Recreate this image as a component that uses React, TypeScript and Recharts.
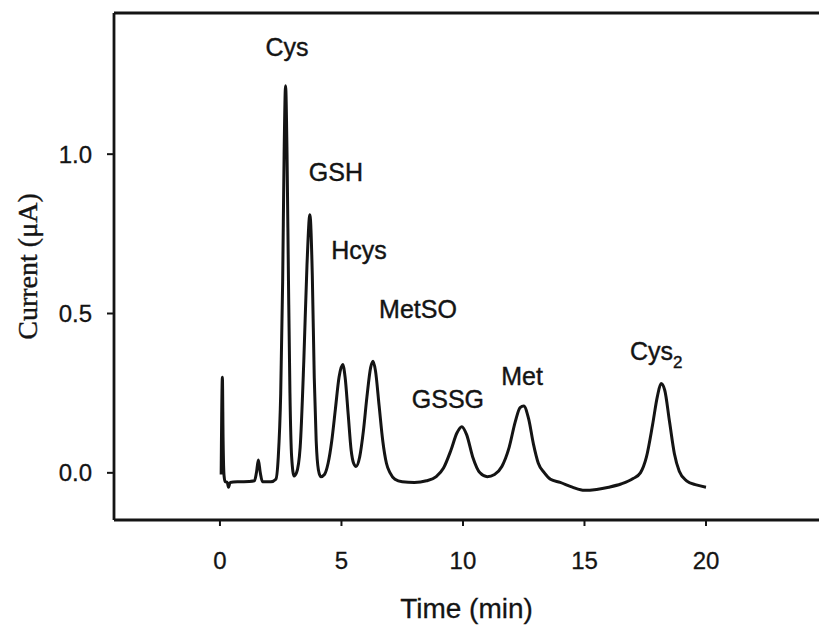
import React from "react";
import { LineChart, Line, XAxis, YAxis, ReferenceLine, ReferenceDot } from "recharts";

// Chromatogram trace: retention time (min) and detector current (µA)
const timeMin = [
  0.05, 0.1, 0.13, 0.17, 0.22, 0.3, 0.35, 0.42, 0.8, 1.2, 1.42, 1.5, 1.58, 1.66, 1.75,
  2.1, 2.3, 2.4, 2.5, 2.58, 2.64, 2.7, 2.76, 2.82, 2.88, 2.95, 3.05, 3.15, 3.3, 3.45,
  3.58, 3.7, 3.8, 3.88, 3.96, 4.05, 4.15, 4.3, 4.45, 4.6, 4.75, 4.9, 5.05, 5.15, 5.28,
  5.4, 5.5, 5.6, 5.75, 5.9, 6.05, 6.2, 6.3, 6.4, 6.55, 6.7, 6.85, 7.0, 7.2, 7.5,
  8.0, 8.5, 8.9, 9.2, 9.5, 9.75, 9.95, 10.15, 10.4, 10.7, 11.0, 11.3, 11.6, 11.9, 12.15,
  12.35, 12.5, 12.7, 12.9, 13.1, 13.35, 13.6, 14.0, 14.5, 15.0, 15.5, 16.0, 16.5, 17.0,
  17.3, 17.55, 17.8, 18.0, 18.15, 18.3, 18.5, 18.7, 18.9, 19.2, 19.6, 20.0,
];
const currentUA = [
  -0.005, 0.3, 0.1, -0.01, -0.028, -0.03, -0.045, -0.03, -0.028, -0.027, -0.025, 0.0, 0.04, 0.0, -0.028,
  -0.028, -0.02, 0.05, 0.25, 0.6, 1.0, 1.215, 1.0, 0.6, 0.25, 0.05, -0.01, 0.0, 0.08, 0.35,
  0.65, 0.81, 0.62, 0.3, 0.1, 0.01, -0.012, -0.005, 0.03, 0.1, 0.2, 0.3, 0.34, 0.3, 0.18,
  0.07, 0.03, 0.02, 0.05, 0.13, 0.24, 0.33, 0.35, 0.32, 0.21, 0.1, 0.03, 0.0, -0.02, -0.028,
  -0.03, -0.025, -0.012, 0.015, 0.07, 0.125, 0.145, 0.12, 0.05, 0.0, -0.012, -0.005, 0.02, 0.08, 0.16,
  0.205, 0.21, 0.17, 0.09, 0.03, 0.0, -0.02, -0.03, -0.045, -0.055, -0.052, -0.045, -0.035, -0.018,
  0.0, 0.05, 0.15, 0.24, 0.28, 0.26, 0.16, 0.06, 0.005, -0.025, -0.038, -0.045,
];

// Peak names and where their labels sit (time, current at text baseline)
const peakNames = ["Cys", "GSH", "Hcys", "MetSO", "GSSG", "Met", "Cys"];
const peakSubs = ["", "", "", "", "", "", "2"];
const peakLabelTime = [2.76, 4.77, 5.72, 8.15, 9.38, 12.43, 16.87];
const peakLabelCurrent = [1.308, 0.915, 0.67, 0.487, 0.204, 0.277, 0.355];
const peakAnchor = ["middle", "middle", "middle", "middle", "middle", "middle", "start"];

const xTicks = [0, 5, 10, 15, 20];
const yTicks = [0, 0.5, 1.0];
const xDomain = [-4.36, 24.65];
const yDomain = [-0.148, 1.443];

const data = timeMin.map((t, i) => ({ t, c: currentUA[i] }));

const INK = "#141414";
const SANS = "'Liberation Sans', Arial, sans-serif";

const makePeakLabel = (name: string, sub: string, anchor: string) => (props: any) => {
  const vb = props.viewBox || {};
  const x = (vb.x ?? 0) + (vb.width ?? 0) / 2;
  const y = (vb.y ?? 0) + (vb.height ?? 0) / 2;
  return (
    <text
      x={x}
      y={y}
      textAnchor={anchor as any}
      fontFamily={SANS}
      fontSize={25}
      fill={INK}
      stroke={INK}
      strokeWidth={0.4}
    >
      {name}
      {sub ? (
        <tspan fontSize={17} dy={8}>
          {sub}
        </tspan>
      ) : null}
    </text>
  );
};

export default function App() {
  return (
    <div style={{ position: "absolute", left: 0, top: 0, width: 819, height: 628, background: "#fff" }}>
      <LineChart width={819} height={628} data={data} margin={{ top: 13, right: 0, bottom: 0, left: 0 }}>
        <XAxis
          dataKey="t"
          type="number"
          domain={xDomain}
          ticks={xTicks}
          allowDataOverflow
          height={108}
          tickSize={6}
          tickMargin={26}
          axisLine={{ stroke: INK, strokeWidth: 2.8 }}
          tickLine={{ stroke: INK, strokeWidth: 2 }}
          tick={{ fill: INK, fontSize: 24, fontFamily: SANS, stroke: INK, strokeWidth: 0.3 }}
          label={{
            value: "Time (min)",
            position: "insideBottom",
            offset: 10,
            style: { fill: INK, fontSize: 28, fontFamily: SANS, stroke: INK, strokeWidth: 0.3 },
          }}
        />
        <YAxis
          type="number"
          domain={yDomain}
          ticks={yTicks}
          allowDataOverflow
          width={114}
          tickSize={7}
          tickMargin={15}
          tickFormatter={(v: number) => v.toFixed(1)}
          axisLine={{ stroke: INK, strokeWidth: 2.8 }}
          tickLine={{ stroke: INK, strokeWidth: 2 }}
          tick={{ fill: INK, fontSize: 24, fontFamily: SANS, stroke: INK, strokeWidth: 0.3 }}
          label={{
            value: "Current (\u03bcA)",
            angle: -90,
            position: "insideLeft",
            offset: 27,
            style: {
              fill: INK,
              fontSize: 28,
              fontFamily: "'Liberation Serif', 'Times New Roman', serif",
              textAnchor: "middle",
              stroke: INK,
              strokeWidth: 0.4,
            },
          }}
        />
        <ReferenceLine y={yDomain[1]} stroke={INK} strokeWidth={2.8} />
        <Line
          type="monotone"
          dataKey="c"
          stroke={INK}
          strokeWidth={3}
          dot={false}
          isAnimationActive={false}
        />
        {peakNames.map((name, i) => (
          <ReferenceDot
            key={i}
            x={peakLabelTime[i]}
            y={peakLabelCurrent[i]}
            r={1}
            fill="none"
            stroke="none"
            label={{ content: makePeakLabel(name, peakSubs[i], peakAnchor[i]) }}
          />
        ))}
      </LineChart>
    </div>
  );
}
